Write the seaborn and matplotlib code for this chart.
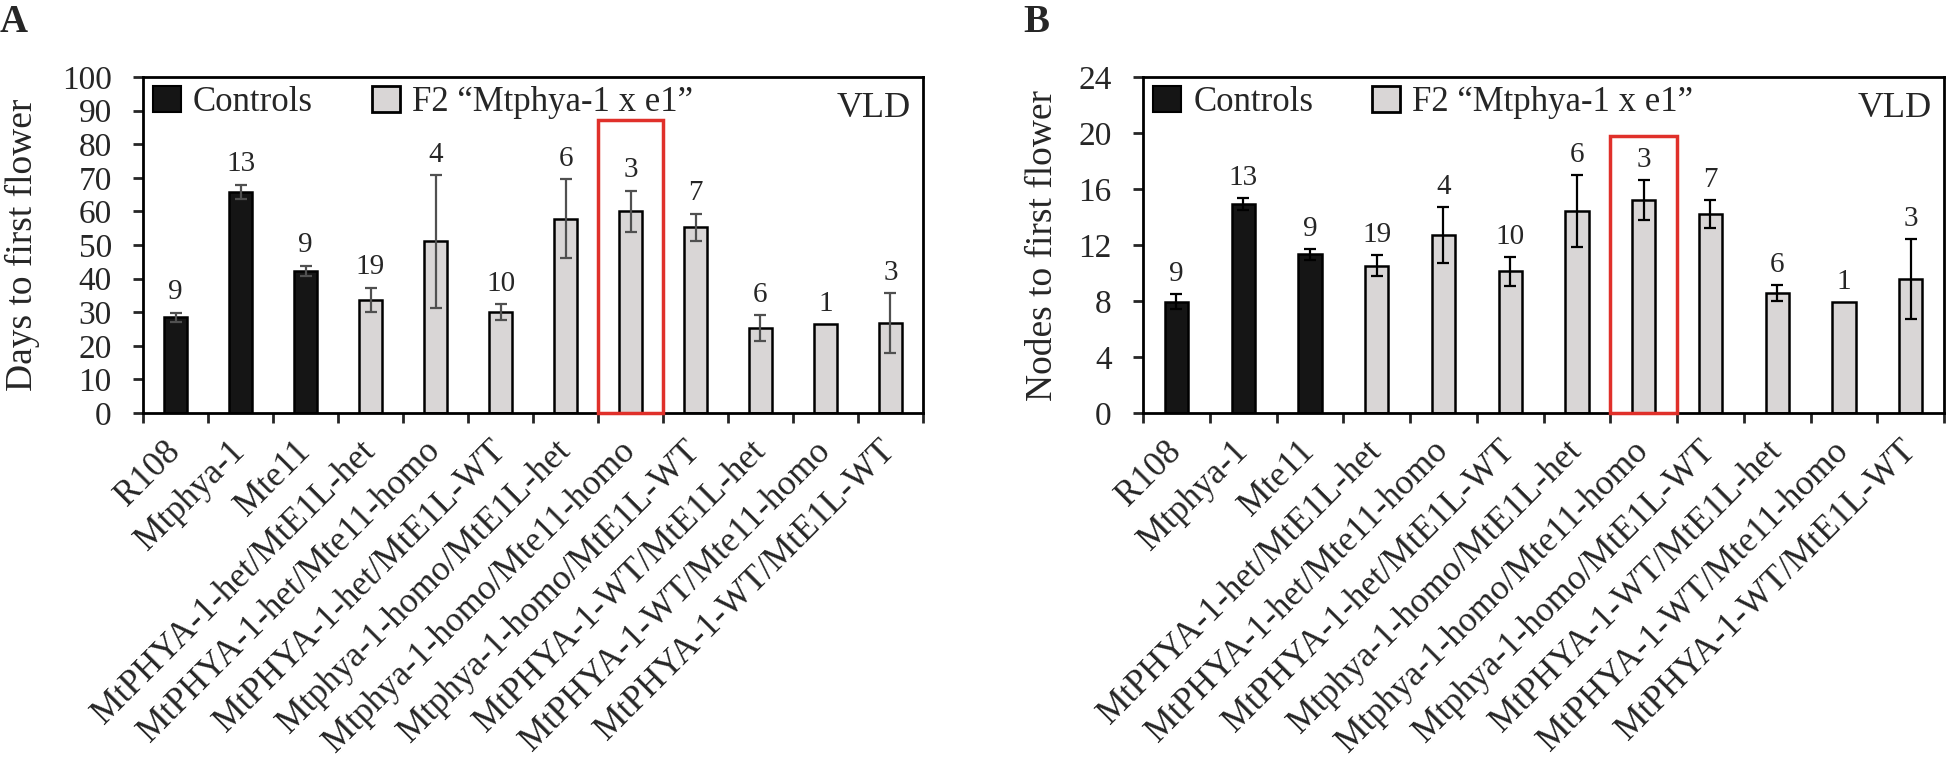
import numpy as np
import pandas as pd
import seaborn as sns
import matplotlib.pyplot as plt
from matplotlib.patches import Patch, Rectangle

# Genotypes (controls + F2 "Mtphya-1 x e1" classes)
genotypes = [
    "R108", "Mtphya-1", "Mte11",
    "MtPHYA-1-het/MtE1L-het", "MtPHYA-1-het/Mte11-homo", "MtPHYA-1-het/MtE1L-WT",
    "Mtphya-1-homo/MtE1L-het", "Mtphya-1-homo/Mte11-homo", "Mtphya-1-homo/MtE1L-WT",
    "MtPHYA-1-WT/MtE1L-het", "MtPHYA-1-WT/Mte11-homo", "MtPHYA-1-WT/MtE1L-WT",
]
groups = ["Controls"] * 3 + ["F2"] * 9
n_plants = [9, 13, 9, 19, 4, 10, 6, 3, 7, 6, 1, 3]

# A: days to first flower
days_mean = [28.5, 65.9, 42.3, 33.7, 51.1, 30.0, 57.8, 60.0, 55.3, 25.3, 26.4, 26.8]
days_err = [1.4, 2.1, 1.6, 3.6, 19.7, 2.45, 11.8, 6.2, 4.0, 3.8, np.nan, 8.8]

# B: nodes to first flower
nodes_mean = [7.95, 14.94, 11.34, 10.52, 12.71, 10.12, 14.41, 15.23, 14.24, 8.57, 7.94, 9.58]
nodes_err = [0.52, 0.42, 0.38, 0.76, 2.02, 1.02, 2.58, 1.43, 1.0, 0.58, np.nan, 2.88]

BLACK = "#151515"
GREY = "#d9d6d6"
RED = "#e0302a"

sns.set_style("ticks")
plt.rcParams["font.family"] = ["Liberation Serif", "DejaVu Serif"]

fig = plt.figure(figsize=(19.46, 7.75), dpi=100)
axA = fig.add_axes([0.0735, 0.4671, 0.4008, 0.4335])
axB = fig.add_axes([0.5874, 0.4671, 0.4116, 0.4335])

paineis = [
    (axA, days_mean, days_err, "Days to first flower", 100, 10, "#505050", 87.3, 2.2, -0.132),
    (axB, nodes_mean, nodes_err, "Nodes to first flower", 24, 4, "black", 19.8, 0.5, -0.104),
]

for ax, media, erro, ylab, ymax, passo, cor_err, topo_box, desloc, xlab in paineis:
    df = pd.DataFrame({"genotipo": genotypes, "valor": media, "grupo": groups})
    sns.barplot(data=df, x="genotipo", y="valor", hue="grupo",
                palette={"Controls": BLACK, "F2": GREY}, dodge=False,
                width=0.35, edgecolor="black", linewidth=1.8,
                errorbar=None, legend=False, ax=ax)
    x = np.arange(len(genotypes))
    ax.errorbar(x, media, yerr=erro, fmt="none", ecolor=cor_err,
                elinewidth=1.6, capsize=4.5, capthick=1.6, zorder=5)

    # numero de plantas acima das barras
    for xi, m, e, n in zip(x, media, erro, n_plants):
        topo = m + (0 if np.isnan(e) else e)
        ax.text(xi, topo + desloc, str(n), ha="center", va="bottom", fontsize=21)

    # caixa vermelha destacando Mtphya-1-homo/Mte11-homo
    ax.add_patch(Rectangle((6.5, 0), 1.0, topo_box, fill=False, edgecolor=RED,
                           linewidth=2.5, zorder=6, clip_on=False))

    ax.set_xlim(-0.5, 11.5)
    ax.set_ylim(0, ymax)
    ax.set_yticks(np.arange(0, ymax + 1, passo))
    ax.set_xticks(x)
    ax.set_xticks(np.arange(-0.5, 12, 1.0), minor=True)
    ax.set_xticklabels(genotypes, rotation=45, ha="right", va="center",
                       rotation_mode="anchor", fontsize=25.5)
    ax.tick_params(axis="x", which="major", length=0, pad=24)
    ax.tick_params(axis="x", which="minor", length=7.5, width=2, direction="out")
    ax.tick_params(axis="y", length=7.5, width=2, direction="out", pad=15, labelsize=24)
    ax.set_xlabel("")
    ax.set_ylabel(ylab, fontsize=27)
    ax.yaxis.set_label_coords(xlab, 0.5)
    for s in ax.spines.values():
        s.set_visible(True)
        s.set_linewidth(2)
        s.set_color("black")

    handles = [Patch(facecolor=BLACK, edgecolor="black", linewidth=1.5, label="Controls"),
               Patch(facecolor=GREY, edgecolor="black", linewidth=2, label="F2 “Mtphya-1 x e1”")]
    ax.legend(handles=handles, loc="upper left", bbox_to_anchor=(0.004, 0.995), ncol=2,
              frameon=False, fontsize=25, handlelength=0.8, handleheight=0.8,
              handletextpad=0.35, columnspacing=1.7, borderaxespad=0, borderpad=0.2)
    ax.text(0.985, 0.955, "VLD", transform=ax.transAxes, ha="right", va="top", fontsize=26)

fig.text(0.0, 0.995, "A", fontsize=28, fontweight="bold", va="top", ha="left")
fig.text(0.5257, 0.995, "B", fontsize=28, fontweight="bold", va="top", ha="left")

fig.savefig("out.png", dpi=100)
